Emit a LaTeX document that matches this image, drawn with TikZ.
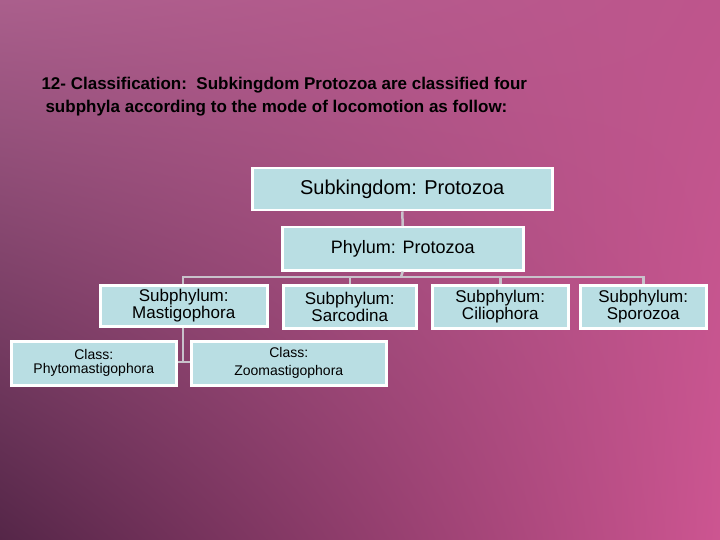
\documentclass[tikz,border=0pt]{standalone}
\usepackage{fontspec}
\setmainfont{Liberation Sans}
\usetikzlibrary{shadings}
\definecolor{boxc}{HTML}{B9DEE3}
\definecolor{linec}{HTML}{C9C2CB}
\definecolor{cul}{RGB}{170,95,140}
\definecolor{cur}{RGB}{190,85,140}
\definecolor{cll}{RGB}{85,38,72}
\definecolor{clr}{RGB}{205,85,145}
\begin{document}
\begin{tikzpicture}[x=1pt,y=-1pt,
  box/.style={draw=white,line width=2.5pt,fill=boxc,inner sep=0pt,align=center,anchor=north west},
  conn/.style={draw=linec,line width=2.5pt}]
\useasboundingbox (0,0) rectangle (720,540);
\shade[upper left=cul,upper right=cur,lower left=cll,lower right=clr] (0,540) rectangle (720,0);
\node[anchor=west,font=\bfseries\fontsize{17}{20}\selectfont] (t1) at (38,85) {12- Classification:\ \ Subkingdom Protozoa are classified four};
\node[anchor=west,font=\bfseries\fontsize{17}{20}\selectfont] (t2) at (42,108) {subphyla according to the mode of locomotion as follow:};
\def\BX#1#2#3#4#5#6#7{\node[box,minimum width=#4-#2,minimum height=#5-#3,font=\fontsize{#7}{#7}\selectfont] (#1) at (#2,#3) {#6};}
\coordinate (bus) at (401,277);
\coordinate (ml) at (183,277);
\coordinate (mb) at (183,362);
\BX{sk}{251}{167}{551}{209}{Subkingdom: Protozoa}{20}
\BX{ph}{281}{226}{522}{269}{Phylum: Protozoa}{18}
\BX{ma}{99}{284}{266}{325}{Subphylum:\\Mastigophora}{17}
\BX{sa}{282}{284}{415}{327}{Subphylum:\\Sarcodina}{17}
\BX{ci}{431}{284}{567}{327}{Subphylum:\\Ciliophora}{17}
\BX{sp}{579}{284}{705}{327}{Subphylum:\\Sporozoa}{17}
\BX{py}{10}{340}{175}{384}{Class:\\Phytomastigophora}{14}
\BX{zo}{190}{340}{385}{384}{Class:\\[4pt]Zoomastigophora}{14}
\draw[conn] (sk.south) -- (ph.north);
\draw[conn] (ph.south) -- (bus);
\draw[conn] (ma.north -| ml) -- (ml) -- (sp.north |- bus) -- (sp.north);
\draw[conn] (sa.north |- bus) -- (sa.north);
\draw[conn] (ci.north |- bus) -- (ci.north);
\draw[conn] (ma.south -| mb) -- (mb);
\draw[conn] (py.east |- mb) -- (zo.west |- mb);
\end{tikzpicture}
\end{document}
